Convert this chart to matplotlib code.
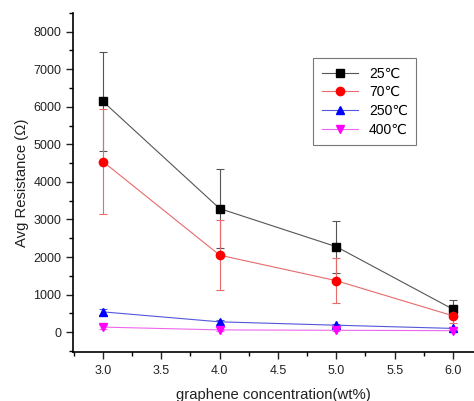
import numpy as np
import matplotlib
matplotlib.use("Agg")
import matplotlib.pyplot as plt
from matplotlib.ticker import MultipleLocator
from matplotlib.lines import Line2D

plt.rcParams['font.family'] = ['Liberation Sans', 'DejaVu Sans']

# datos
conc = [3.0, 4.0, 5.0, 6.0]
labels = ['25℃', '70℃', '250℃', '400℃']
r25 = [6140, 3290, 2275, 610]
e25 = [1310, 1050, 690, 240]
r70 = [4540, 2050, 1370, 435]
e70 = [1400, 940, 600, 180]
r250 = [540, 275, 185, 100]
e250 = [80, 50, 40, 30]
r400 = [135, 60, 50, 40]
e400 = [50, 30, 25, 20]

series = [r25, r70, r250, r400]
errs = [e25, e70, e250, e400]
colors = ['#000000', '#ff0000', '#0000ff', '#ff00ff']
lcolors = ['#555555', '#e86a6a', '#5555dd', '#ee66ee']
markers = ['s', 'o', '^', 'v']

fig = plt.figure(figsize=(4.74, 4.01), dpi=100)
ax = fig.add_axes([0.154, 0.122, 0.846, 0.846])

handles = []
for y, e, c, lc, m, lab in zip(series, errs, colors, lcolors, markers, labels):
    ax.errorbar(conc, y, yerr=e, color=lc, ecolor=lc, elinewidth=0.8,
                capsize=3, capthick=0.8, linewidth=0.8, marker=m,
                markersize=6, markerfacecolor=c, markeredgecolor=c)
    handles.append(Line2D([], [], color=lc, linewidth=0.8, marker=m, markersize=6,
                          markerfacecolor=c, markeredgecolor=c, label=lab))

ax.set_xlim(2.743, 6.18)
ax.set_ylim(-530, 8500)
ax.xaxis.set_major_locator(MultipleLocator(0.5))
ax.xaxis.set_minor_locator(MultipleLocator(0.25))
ax.yaxis.set_major_locator(MultipleLocator(1000))
ax.yaxis.set_minor_locator(MultipleLocator(500))
ax.xaxis.set_major_formatter(matplotlib.ticker.FormatStrFormatter('%.1f'))

ax.spines['top'].set_visible(False)
ax.spines['right'].set_visible(False)
ax.spines['left'].set_linewidth(1.2)
ax.spines['bottom'].set_linewidth(1.2)
ax.tick_params(which='major', direction='out', length=5, width=1, labelsize=9, colors='#222222')
ax.tick_params(which='minor', direction='out', length=3, width=1)
ax.tick_params(axis='x', which='major', pad=4)

ax.set_xlabel('graphene concentration(wt%)', fontsize=10.7, color='#222222', labelpad=8)
ax.set_ylabel('Avg Resistance (Ω)', fontsize=10.7, color='#222222', labelpad=3)

leg = ax.legend(handles=handles, loc='upper left', bbox_to_anchor=(0.582, 0.887), fontsize=10,
                fancybox=False, edgecolor='#777777', framealpha=1,
                handlelength=2.6, borderpad=0.6, labelspacing=0.35)
leg.get_frame().set_linewidth(0.8)

fig.savefig('out.png', dpi=100)
